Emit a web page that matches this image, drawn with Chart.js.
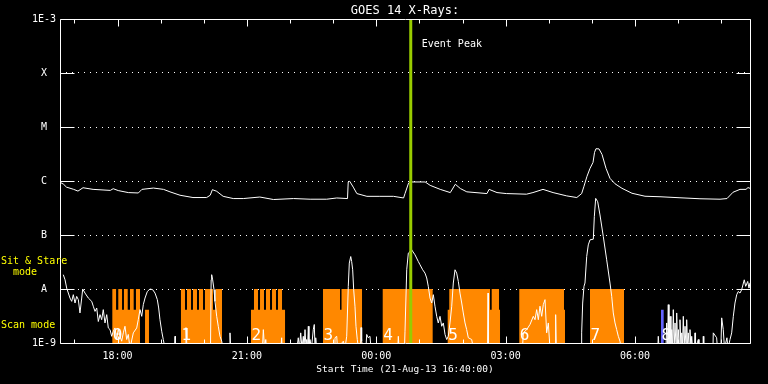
<!DOCTYPE html>
<html><head><meta charset="utf-8">
<script src="https://cdn.jsdelivr.net/npm/chart.js@4"></script>
<style>html,body{margin:0;padding:0;background:#000;}canvas{display:block;}</style>
</head><body>
<canvas id="c" width="768" height="384"></canvas>
<script>
// ---------- DATA (time = minutes after 21-Aug-13 16:40:00, flux in W/m^2) ----------
const chartTitle = 'GOES 14 X-Rays:';
const xTitle = 'Start Time (21-Aug-13 16:40:00)';
const xMajorTicks = [80, 260, 440, 620, 800];
const xMajorLabels = ['18:00', '21:00', '00:00', '03:00', '06:00'];
const xMinorTicks = [20, 140, 200, 320, 380, 500, 560, 680, 740, 860, 920];
const yTickValues = [1e-9, 1e-8, 1e-7, 1e-6, 1e-5, 1e-4, 1e-3];
const yTickLabels = ['1E-9', 'A', 'B', 'C', 'M', 'X', '1E-3'];

const eventTime = 488;
const eventLabel = 'Event Peak';

// long channel (1-8 A)
const longChannel = [[0,9.5e-7],[5,8.7e-7],[9,7.7e-7],[19,7.0e-7],[25,6.5e-7],[32,7.5e-7],[46,7.0e-7],[70,6.7e-7],[74,7.2e-7],[81,6.65e-7],[95,6.1e-7],[109,6.0e-7],[114,7.0e-7],[130,7.4e-7],[144,7.0e-7],[153,6.3e-7],[167,5.45e-7],[185,4.94e-7],[204,4.94e-7],[209,5.45e-7],[212,6.9e-7],[218,6.45e-7],[227,5.2e-7],[241,4.73e-7],[255,4.73e-7],[278,5.05e-7],[297,4.54e-7],[325,4.73e-7],[348,4.6e-7],[371,4.6e-7],[385,4.85e-7],[400,4.73e-7],[401,9.6e-7],[403,9.9e-7],[408,7.7e-7],[413,5.85e-7],[427,5.2e-7],[445,5.2e-7],[464,5.2e-7],[478,4.85e-7],[480,5.85e-7],[485,9.2e-7],[487,9.6e-7],[508,9.6e-7],[515,8.3e-7],[529,7.0e-7],[543,6.1e-7],[550,8.7e-7],[557,7.25e-7],[566,6.3e-7],[594,5.85e-7],[597,7.0e-7],[608,6.1e-7],[621,5.85e-7],[649,5.7e-7],[658,6.1e-7],[672,7.0e-7],[686,6.1e-7],[705,5.3e-7],[719,4.94e-7],[725.8,5.85e-7],[729,7.98e-7],[733.2,1.22e-6],[737.4,1.71e-6],[741.6,2.21e-6],[743.7,3.39e-6],[745.7,3.96e-6],[749.9,3.93e-6],[754.1,3.11e-6],[759.7,1.71e-6],[765.2,1.12e-6],[772.2,8.88e-7],[781.9,7.32e-7],[795.8,5.93e-7],[813.9,5.22e-7],[834.8,5.11e-7],[862.6,4.89e-7],[890.4,4.69e-7],[918.3,4.6e-7],[928,4.73e-7],[936.4,6.19e-7],[946.1,7.0e-7],[954.4,7.0e-7],[957.2,7.55e-7],[960,7.32e-7]];

// short channel (0.5-4 A); 8e-10 = below the plotted range
const shortChannel = [[4.6,1.84e-8],[7.0,1.48e-8],[9.3,1.04e-8],[13.9,6.8e-9],[16.3,5.9e-9],[18.5,7.85e-9],[20.9,5.5e-9],[23.2,7.3e-9],[25.5,6.35e-9],[27.8,3.6e-9],[30.2,6.8e-9],[31.6,1e-8],[34.8,8.4e-9],[39.4,6.8e-9],[44.1,5.9e-9],[46.3,4.8e-9],[48.7,3.85e-9],[51.1,4.45e-9],[53.3,2.5e-9],[55.7,3.35e-9],[58.0,2.7e-9],[60.2,4.15e-9],[62.6,2.35e-9],[65.0,3.35e-9],[67.2,1.9e-9],[69.6,1.77e-9],[71.9,1.33e-9],[74.2,1.65e-9],[76.5,1.9e-9],[78.9,1.16e-9],[81.1,1.83e-9],[83.5,1.33e-9],[85.8,1.08e-9],[88.1,1.54e-9],[90.4,2.04e-9],[92.8,1.16e-9],[95.0,1.44e-9],[97.4,8e-10],[102,1.54e-9],[106.7,1.9e-9],[108.9,2.7e-9],[111.3,4.15e-9],[113.7,3.12e-9],[115.9,5.13e-9],[118.3,6.8e-9],[121.5,9.0e-9],[125.2,1e-8],[129,9.7e-9],[132.2,8.4e-9],[135.4,6.35e-9],[137.3,4.45e-9],[139.1,2.7e-9],[141.5,1.65e-9],[143.7,1.16e-9],[146.1,8e-10],
[159.3,8e-10],[160,1.33e-9],[160.7,8e-10],[174.6,8e-10],[175.3,1.93e-9],[176.7,8e-10],
[209.4,8e-10],[210.3,1.48e-8],[211,1.84e-8],[212.4,1.48e-8],[214.3,9.7e-9],[215.6,5.9e-9],[218,3.12e-9],[220.2,2.04e-9],[222.6,1.33e-9],[225,1.08e-9],[226.8,8e-10],
[235.8,8e-10],[236.5,1.54e-9],[237.5,8e-10],
[281.7,8e-10],[282.9,1.77e-9],[284.6,8e-10],[286.3,1.16e-9],[287.3,8e-10],
[307.3,8e-10],[308.4,1.25e-9],[309,8e-10],
[329.7,8e-10],[331.5,1.25e-9],[333.2,8e-10],[334.9,1.54e-9],[336.7,8e-10],[338.5,1.33e-9],[339.5,8e-10],[340.9,1.77e-9],[342.3,8e-10],[343.2,1.16e-9],[344.4,8e-10],[345.5,2.04e-9],[346.4,8e-10],[347.8,1.16e-9],[349.9,8e-10],[352.4,1.77e-9],[353.8,2.2e-9],[354.8,8e-10],[355.8,1.25e-9],[356.9,8e-10],
[381.5,8e-10],[382.6,1.25e-9],[385,1.33e-9],[386.1,8e-10],[394.2,1.08e-9],[396.5,8e-10],[398.9,1.33e-9],[401.1,1.12e-8],[402.5,3.02e-8],[404.5,3.99e-8],[405.8,3.23e-8],[407.2,2.27e-8],[408.6,9.7e-9],[410.4,4.8e-9],[411.8,2.04e-9],[413.6,1.16e-9],[415.3,8e-10],
[418.1,8e-10],[418.8,1.93e-9],[419.7,1.08e-9],[421.6,8e-10],
[425.7,8e-10],[426.7,1.44e-9],[428.9,1.25e-9],[431.3,1.33e-9],[432.7,8e-10],
[470,8e-10],[470.7,1.33e-9],[471.7,8e-10],
[479.3,8e-10],[480,1.65e-9],[482.4,2.27e-8],[484.6,4.61e-8],[487,4.94e-8],[489.3,5.31e-8],[493.9,4.3e-8],[498.5,3.23e-8],[500.9,2.81e-8],[504.6,2.27e-8],[507.8,1.97e-8],[510.2,1.6e-8],[512.4,1.12e-8],[514.8,6.8e-9],[517.2,5.5e-9],[519.4,7.85e-9],[521.7,4.8e-9],[524.1,3.12e-9],[526.3,2.35e-9],[528.7,3.12e-9],[531.1,2.04e-9],[533.3,2.35e-9],[535.7,1.44e-9],[538,1.16e-9],[540.2,1.33e-9],[542.6,2.35e-9],[545,4.8e-9],[547.2,1.29e-8],[549.6,2.27e-8],[551.9,1.97e-8],[554.2,1.38e-8],[556.5,8.4e-9],[558.9,5.5e-9],[561.1,3.6e-9],[563.5,2.35e-9],[565.8,1.77e-9],[568.1,1.25e-9],[572.8,1.16e-9],[575,8e-10],
[594.8,8e-10],[595.5,8.4e-9],[596.2,8e-10],
[643.5,8e-10],[644.6,1.54e-9],[649.3,1.77e-9],[653.9,2.2e-9],[658.5,3.12e-9],[660.9,2.7e-9],[663.2,4.15e-9],[665.5,2.7e-9],[667.8,4.8e-9],[670.2,3.12e-9],[672.4,5.13e-9],[674.8,6.35e-9],[677.1,1.54e-9],[679.4,2.35e-9],[681.7,8e-10],
[689.1,8e-10],[689.6,3.35e-9],[690.5,8e-10],
[725.3,8e-10],[725.8,1.54e-9],[727.2,5.5e-9],[729,1.12e-8],[730.4,1.29e-8],[732.8,3.99e-8],[735,6.56e-8],[737.4,8.13e-8],[742,8.37e-8],[743.4,2.18e-7],[745.3,4.77e-7],[748.1,4.13e-7],[751.3,2.35e-7],[755.9,9.34e-8],[760.6,3.47e-8],[765.2,1.29e-8],[767.6,7.3e-9],[769.8,3.6e-9],[772.2,2.35e-9],[774.5,1.77e-9],[776.8,1.33e-9],[779.1,1.08e-9],[780.5,8e-10],
[831.7,8e-10],[832.4,1.33e-9],[833.4,8e-10],
[843.1,8e-10],[844.1,2.35e-9],[845.2,8e-10],[846.3,5.13e-9],[847.3,8e-10],[848.7,3.12e-9],[850,8e-10],[851.1,1.77e-9],[852.2,8e-10],[853.3,4.15e-9],[854.5,8e-10],[855.7,2.35e-9],[857.1,8e-10],[858,3.6e-9],[859.2,8e-10],[860.3,1.77e-9],[861.5,8e-10],[862.6,2.7e-9],[864,8e-10],[865,1.54e-9],[866,8e-10],[867.2,3.12e-9],[868.4,8e-10],[869.6,2.04e-9],[871,8e-10],[871.9,2.7e-9],[873,8e-10],[874.1,1.54e-9],[875.4,8e-10],[876.5,1.77e-9],[877.9,8e-10],[878.9,1.33e-9],[880,8e-10],
[882.8,8e-10],[883.5,1.54e-9],[884.2,8e-10],[888.1,1.16e-9],[889,8e-10],[894.6,8e-10],[895,1.33e-9],[895.7,8e-10],[908.5,8e-10],[908.9,1.54e-9],[913.6,1.25e-9],[914.7,8e-10],[919.5,8e-10],[920.6,2.92e-9],[922.8,1.77e-9],[924.5,8e-10],[927.9,1.25e-9],[929.4,8e-10],[932.2,1.16e-9],[934.5,1.54e-9],[936.8,3.12e-9],[939.1,5.5e-9],[941.5,7.85e-9],[943.7,9.0e-9],[946.1,8.4e-9],[948.4,9.7e-9],[952,1.48e-8],[954,1.12e-8],[956.8,1.38e-8],[958.6,1.04e-8],[960,1.3e-8]];

// observing mode timeline: [start minute, mode] ; 0 = none, 1 = scan mode, 2 = sit & stare
const modeLevelFlux = [1e-12, 4.15e-9, 1e-8];
const modeSteps = [[0,0],[72.8,2],[78.0,1],[81.1,2],[86.3,1],[89.0,2],[94.2,1],[97.4,2],[102.5,1],[105.7,2],[111.3,0],[118.3,1],[123.8,0],
[168.3,2],[173.9,1],[176.7,2],[182.3,1],[185,2],[190.6,1],[193.4,2],[199,1],[201.7,2],[212.9,1],[216.3,2],[225.4,0],
[265.7,1],[269.9,2],[275.5,1],[278.3,2],[283.8,1],[286.6,2],[292.2,1],[295,2],[300.5,1],[303.3,2],[308.9,1],[313.1,0],
[365.9,2],[389.6,1],[391.7,2],[420.2,0],
[449,2],[518.5,0],
[539.4,1],[541.6,2],[598.3,1],[600.6,2],[610.8,1],[612.2,0],
[639,2],[701.2,1],[702.6,0],
[737.4,2],[784.7,0],[960,0]];
const blueSteps = [[820,0],[836.2,1],[839.9,0],[960,0]];
const modeLabels = ['0','1','2','3','4','5','6','7','8'];
const modeLabelTimes = [72.8,168.3,265.7,365.9,449,539.4,639,737.4,836.2];

// ---------- CHART ----------
const FONT = '"DejaVu Sans Mono", monospace';
const toXY = arr => arr.map(([t, f]) => ({x: t, y: f}));
const toSteps = arr => arr.map(([t, m]) => ({x: t, y: modeLevelFlux[m]}));

const decor = {
  id: 'decor',
  beforeDraw(chart) {
    const {ctx, width, height} = chart;
    ctx.save(); ctx.fillStyle = '#000'; ctx.fillRect(0, 0, width, height); ctx.restore();
  },
  afterDatasetsDraw(chart) {
    const {ctx, chartArea: a, scales: {x, y}} = chart;
    ctx.save();
    // mode numbers
    ctx.fillStyle = '#fff'; ctx.font = '16px ' + FONT; ctx.textAlign = 'left'; ctx.textBaseline = 'alphabetic';
    modeLabelTimes.forEach((t, i) => ctx.fillText(modeLabels[i], x.getPixelForValue(t) + 0.5, a.bottom - 3));
    // event peak line
    const ex = x.getPixelForValue(eventTime);
    ctx.beginPath(); ctx.moveTo(ex, a.top); ctx.lineTo(ex, a.bottom);
    ctx.strokeStyle = '#99cc00'; ctx.lineWidth = 3; ctx.stroke();
    ctx.fillStyle = '#fff'; ctx.font = '10px ' + FONT;
    ctx.fillText(eventLabel, ex + 11, a.top + 27.5);
    // frame and inward ticks
    ctx.strokeStyle = '#fff'; ctx.lineWidth = 1;
    const L = Math.round(a.left) + 0.5, R = Math.round(a.right) + 0.5, T = Math.round(a.top) + 0.5, B = Math.round(a.bottom) + 0.5;
    ctx.beginPath(); ctx.rect(L, T, R - L, B - T);
    yTickValues.forEach(v => {
      const py = Math.round(y.getPixelForValue(v)) + 0.5;
      ctx.moveTo(L, py); ctx.lineTo(L + 14, py); ctx.moveTo(R, py); ctx.lineTo(R - 14, py);
    });
    const tick = (t, len) => {
      const px = Math.round(x.getPixelForValue(t)) + 0.5;
      ctx.moveTo(px, T); ctx.lineTo(px, T + len); ctx.moveTo(px, B); ctx.lineTo(px, B - len);
    };
    xMajorTicks.forEach(t => tick(t, 7));
    xMinorTicks.forEach(t => tick(t, 4));
    ctx.stroke();
    // title
    ctx.fillStyle = '#fff'; ctx.font = '12px ' + FONT; ctx.textAlign = 'center';
    ctx.fillText(chartTitle, (a.left + a.right) / 2, 13.5);
    // mode legend on the left
    ctx.fillStyle = '#ffff00'; ctx.font = '10px ' + FONT; ctx.textAlign = 'left';
    ctx.fillText('Sit & Stare', 1, 263.5);
    ctx.fillText('mode', 13, 275);
    ctx.fillText('Scan mode', 1, 327.5);
    ctx.restore();
  }
};

new Chart(document.getElementById('c'), {
  type: 'line',
  data: {
    datasets: [
      {label: 'long', data: toXY(longChannel), borderColor: '#fff', borderWidth: 1, pointRadius: 0, fill: false, order: 0},
      {label: 'short', data: toXY(shortChannel), borderColor: '#fff', borderWidth: 1, pointRadius: 0, fill: false, order: 1},
      {label: 'blue', data: toSteps(blueSteps), stepped: true, borderWidth: 0, borderColor: 'rgba(0,0,0,0)', backgroundColor: '#6464ff', pointRadius: 0, fill: 'start', order: 2},
      {label: 'mode', data: toSteps(modeSteps), stepped: true, borderWidth: 0, borderColor: 'rgba(0,0,0,0)', backgroundColor: '#ff8800', pointRadius: 0, fill: 'start', order: 3}
    ]
  },
  options: {
    responsive: false, animation: false, devicePixelRatio: 1,
    layout: {padding: {top: 19, right: 18, left: 0, bottom: 0}},
    plugins: {legend: {display: false}, tooltip: {enabled: false}, title: {display: false}},
    scales: {
      x: {
        type: 'linear', min: 0, max: 960,
        afterBuildTicks: s => { s.ticks = xMajorTicks.map(v => ({value: v})); },
        afterFit: s => { s.height = 41; },
        grid: {display: false, drawTicks: false}, border: {display: false},
        ticks: {color: '#fff', font: {family: FONT, size: 10}, padding: 7, maxRotation: 0, autoSkip: false,
                callback: (v, i) => xMajorLabels[i]},
        title: {display: true, text: xTitle, color: '#fff', font: {family: FONT, size: 9.5}, padding: {top: 0, bottom: 9}}
      },
      y: {
        type: 'logarithmic', min: 1e-9, max: 1e-3,
        afterBuildTicks: s => { s.ticks = yTickValues.map(v => ({value: v})); },
        afterFit: s => { s.width = 60; },
        grid: {drawTicks: false, lineWidth: 1,
               color: c => (c.index === 0 || c.index === yTickValues.length - 1) ? 'rgba(0,0,0,0)' : '#fff'},
        border: {display: false, dash: [1, 5]},
        ticks: {color: '#fff', font: {family: FONT, size: 10}, padding: 4, crossAlign: 'center', autoSkip: false,
                callback: (v, i) => yTickLabels[i]}
      }
    }
  },
  plugins: [decor]
});
</script>
</body></html>
